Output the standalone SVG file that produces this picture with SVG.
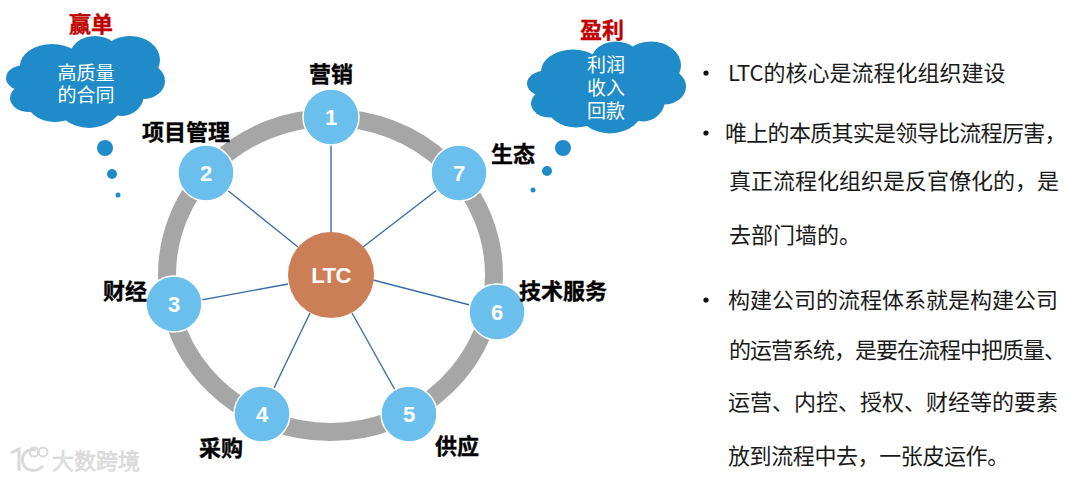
<svg xmlns="http://www.w3.org/2000/svg" width="1080" height="480" viewBox="0 0 1080 480">
<style>
text{font-family:"Noto Sans CJK SC","Liberation Sans",sans-serif}
.num{font-family:"Liberation Sans",Arial,sans-serif;font-weight:700;font-size:22px;fill:#fff;text-anchor:middle}
.lab{font-weight:700;font-size:22px;fill:#000;stroke:#000;stroke-width:.35;text-anchor:middle}
.red{font-weight:700;font-size:22px;fill:#c00000;stroke:#c00000;stroke-width:.35;text-anchor:middle}
.cl{font-size:19px;fill:#fff;text-anchor:middle}
.body{font-size:22px;fill:#1a1a1a}
.n{fill:#6bbfec;stroke:#fff;stroke-width:1.5}
.sp{stroke:#3b6ea5;stroke-width:1.4;fill:none}
.blue{fill:#1f8bc8}
</style>
<defs>
<g id="cloud" class="blue">
<ellipse cx="85" cy="80" rx="62" ry="32"/>
<ellipse cx="52" cy="66" rx="32" ry="22"/>
<ellipse cx="95" cy="56" rx="25" ry="20"/>
<ellipse cx="130" cy="60" rx="30" ry="24"/>
<ellipse cx="143" cy="81" rx="22" ry="18"/>
<ellipse cx="122" cy="94" rx="22" ry="22"/>
<ellipse cx="89" cy="100" rx="34" ry="28"/>
<ellipse cx="55" cy="98" rx="30" ry="24"/>
<ellipse cx="29" cy="98" rx="19" ry="14"/>
<ellipse cx="25" cy="78" rx="19" ry="13"/>
</g>
</defs>
<g id="ring"><ellipse cx="330.5" cy="275" rx="163.5" ry="157" fill="none" stroke="#a6a6a6" stroke-width="18"/></g>
<g id="connectors">
<line class="sp" x1="331" y1="115" x2="331" y2="233"/>
<line class="sp" x1="206" y1="173" x2="298" y2="247"/>
<line class="sp" x1="174" y1="305" x2="288" y2="284"/>
<line class="sp" x1="261" y1="415" x2="310" y2="313"/>
<line class="sp" x1="409" y1="415" x2="352" y2="313"/>
<line class="sp" x1="497" y1="312" x2="373" y2="280"/>
<line class="sp" x1="459" y1="173" x2="363" y2="247"/>
</g>
<g id="center"><circle cx="331" cy="275" r="43" fill="#cc7f56"/><text class="num" x="331" y="283" letter-spacing="-.5">LTC</text></g>
<g id="node1"><circle class="n" cx="331" cy="117" r="28"/><text class="num" x="331" y="125">1</text><text class="lab" x="331" y="82">营销</text></g>
<g id="node2"><circle class="n" cx="206" cy="173" r="28"/><text class="num" x="206" y="181">2</text><text class="lab" x="186" y="140">项目管理</text></g>
<g id="node3"><circle class="n" cx="174" cy="304" r="28"/><text class="num" x="174" y="312">3</text><text class="lab" x="125" y="299">财经</text></g>
<g id="node4"><circle class="n" cx="262" cy="414" r="28"/><text class="num" x="262" y="422">4</text><text class="lab" x="221" y="456">采购</text></g>
<g id="node5"><circle class="n" cx="409" cy="414" r="28"/><text class="num" x="409" y="422">5</text><text class="lab" x="457" y="454">供应</text></g>
<g id="node6"><circle class="n" cx="497" cy="312" r="28"/><text class="num" x="497" y="320">6</text><text class="lab" x="563" y="299">技术服务</text></g>
<g id="node7"><circle class="n" cx="459" cy="173" r="28"/><text class="num" x="459" y="181">7</text><text class="lab" x="513" y="162">生态</text></g>
<g id="cloud-left">
<text class="red" x="91" y="32">赢单</text>
<use href="#cloud"/>
<text class="cl" x="86" y="80">高质量</text><text class="cl" x="86" y="102">的合同</text>
<circle class="blue" cx="105" cy="148" r="8"/><circle class="blue" cx="112" cy="174" r="5"/><circle class="blue" cx="118" cy="195" r="2.5"/>
</g>
<g id="cloud-right">
<text class="red" x="602" y="38">盈利</text>
<use href="#cloud" transform="translate(521 5.5)"/>
<text class="cl" x="606" y="72">利润</text><text class="cl" x="606" y="95">收入</text><text class="cl" x="606" y="118">回款</text>
<circle class="blue" cx="563" cy="148" r="8"/><circle class="blue" cx="547" cy="171" r="5"/><circle class="blue" cx="533" cy="190" r="2.5"/>
</g>
<g id="bullets">
<circle cx="706" cy="73" r="2.6" fill="#111"/><circle cx="706" cy="133" r="2.6" fill="#111"/><circle cx="706" cy="300" r="2.6" fill="#111"/>
<text class="body" x="725" y="141" letter-spacing="-.7">唯上的本质其实是领导比流程厉害，</text>
<text class="body" x="728" y="81">LTC的核心是流程化组织建设</text>
<text class="body" x="729" y="189">真正流程化组织是反官僚化的，是</text>
<text class="body" x="729" y="243">去部门墙的。</text>
<text class="body" x="728" y="308">构建公司的流程体系就是构建公司</text>
<text class="body" x="729" y="358" letter-spacing="-1">的运营系统，是要在流程中把质量、</text>
<text class="body" x="728" y="410">运营、内控、授权、财经等的要素</text>
<text class="body" x="728" y="464" letter-spacing="-.4">放到流程中去，一张皮运作。</text>
</g>
<g id="watermark">
<path d="M11 453L19 449V471M36 450C25 448 21 456 23 463C25 471 36 473 43 466" fill="none" stroke="#d9d9d9" stroke-width="3"/>
<circle cx="34" cy="452" r="4.5" fill="none" stroke="#d9d9d9" stroke-width="2"/><circle cx="43" cy="452" r="4.5" fill="none" stroke="#d9d9d9" stroke-width="2"/>
<text x="52" y="469" font-size="22" fill="#e2e2e2" stroke="#cfcfcf" stroke-width=".5">大数跨境</text>
</g>
</svg>
